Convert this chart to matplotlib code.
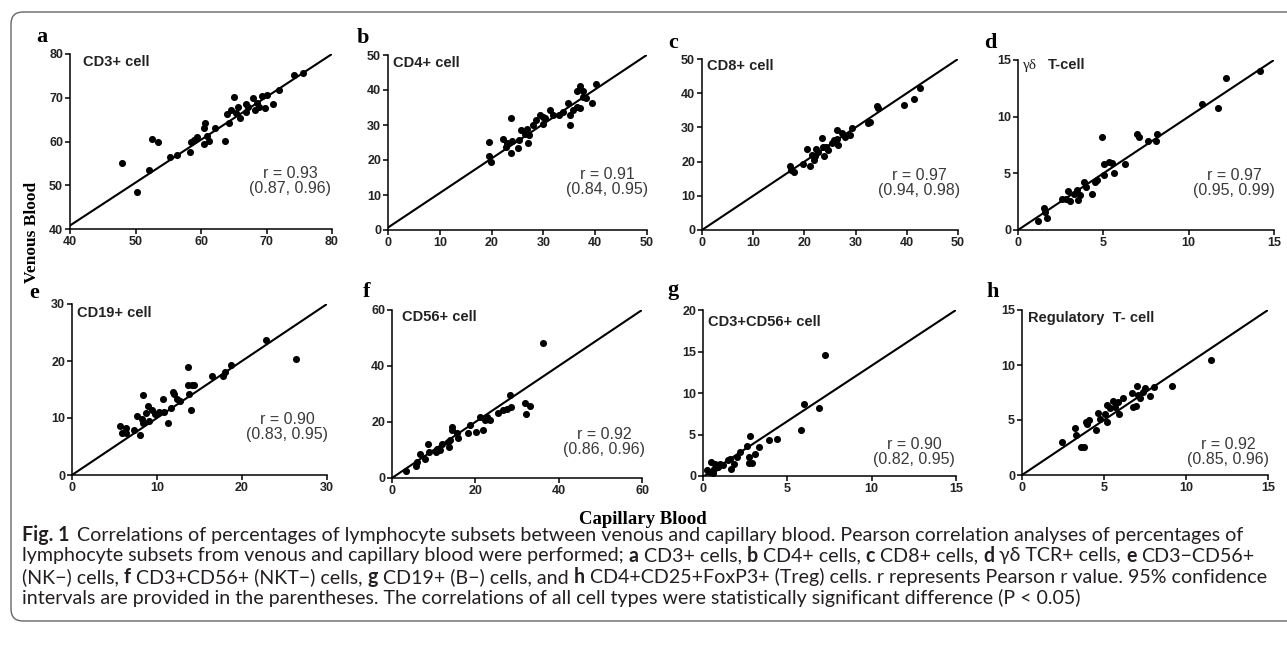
import numpy as np
import matplotlib.pyplot as plt
from matplotlib.patches import FancyBboxPatch

W, H = 1287, 651

# ---- data (capillary = x, venous = y) ----
a_cap = [48.0, 50.2, 52.0, 52.5, 53.5, 55.2, 56.3, 58.3, 58.5, 58.9, 59.4, 60.6, 60.5,
         60.5, 61.2, 60.9, 62.2, 63.6, 63.9, 64.3, 64.6, 65.0, 65.3, 65.6, 66.0, 66.8,
         67.1, 67.9, 68.3, 68.6, 68.8, 69.3, 69.8, 70.1, 71.0, 71.9, 74.2, 75.6, 66.8]
a_ven = [55.0, 48.4, 53.5, 60.5, 59.9, 56.4, 56.9, 57.6, 59.8, 60.4, 61.0, 64.2, 63.2,
         59.5, 60.2, 61.3, 63.2, 60.2, 66.2, 64.2, 67.2, 70.1, 66.5, 67.8, 65.3, 68.6,
         68.0, 69.9, 67.2, 68.7, 68.0, 70.3, 67.6, 70.6, 68.5, 71.8, 75.2, 75.7, 66.8]

b_cap = [19.5, 19.5, 19.9, 22.2, 23.0, 23.7, 23.8, 24.0, 25.1, 25.3, 25.7, 26.4, 26.8,
         27.0, 27.3, 27.9, 28.6, 29.4, 29.9, 30.4, 31.2, 31.9, 33.1, 34.7, 35.1, 35.2,
         35.7, 36.4, 36.5, 37.1, 37.1, 37.6, 38.2, 39.4, 40.2, 37.6, 33.8, 29.9, 22.8]
b_ven = [25.2, 21.1, 19.4, 26.1, 24.8, 31.9, 22.1, 25.5, 23.3, 25.7, 28.6, 27.4, 28.8,
         25.0, 27.1, 30.0, 31.4, 32.9, 30.2, 31.9, 34.3, 32.9, 32.9, 36.4, 32.9, 30.0,
         34.3, 35.2, 39.8, 41.1, 34.8, 38.1, 37.6, 36.2, 41.6, 39.8, 33.8, 32.4, 23.8]

c_cap = [17.1, 17.4, 18.0, 19.8, 20.5, 21.1, 21.4, 21.8, 22.1, 22.3, 22.7, 23.4, 23.6,
         23.8, 24.2, 24.7, 25.3, 25.7, 26.3, 26.4, 26.6, 27.3, 27.9, 28.9, 29.2, 32.5,
         32.8, 34.1, 34.4, 39.4, 41.4, 42.5]
c_ven = [18.6, 17.6, 17.1, 19.3, 23.7, 18.6, 22.0, 20.5, 21.7, 23.6, 22.7, 26.9, 24.4,
         21.5, 24.4, 23.4, 25.4, 26.2, 26.7, 29.3, 24.9, 28.3, 27.1, 27.8, 29.8, 31.4,
         31.7, 36.3, 35.6, 36.6, 38.4, 41.4]

d_cap = [1.17, 1.5, 1.56, 1.7, 2.55, 2.8, 2.93, 3.03, 3.3, 3.48, 3.5, 3.64, 3.85, 4.0,
         4.36, 4.5, 4.6, 4.95, 5.03, 5.03, 5.34, 5.53, 5.6, 6.26, 7.0, 7.08, 7.63, 8.1,
         8.15, 10.76, 11.74, 12.2, 14.2]
d_ven = [0.79, 1.9, 1.6, 1.1, 2.7, 2.7, 3.4, 2.6, 3.15, 3.5, 2.65, 3.1, 4.2, 3.8,
         3.2, 4.2, 4.4, 8.2, 4.85, 5.8, 6.0, 5.9, 5.06, 5.8, 8.5, 8.2, 7.85, 7.85,
         8.5, 11.1, 10.8, 13.4, 14.0]

e_cap = [5.7, 5.9, 6.3, 6.3, 7.3, 7.6, 7.96, 8.2, 8.4, 8.35, 8.7, 8.9, 9.1, 9.4, 9.8,
         10.2, 10.7, 10.8, 11.3, 11.6, 11.9, 12.0, 12.3, 12.7, 13.6, 13.7, 13.8, 14.1,
         14.0, 14.3, 16.5, 17.8, 18.0, 18.7, 22.8, 26.3]
e_ven = [8.6, 7.3, 8.2, 7.3, 7.9, 10.4, 7.0, 9.9, 14.0, 9.1, 10.8, 12.1, 9.5, 11.4, 10.7,
         11.0, 13.3, 11.1, 9.2, 11.7, 14.6, 14.2, 13.3, 13.0, 15.8, 18.9, 14.2, 15.8,
         11.4, 15.8, 17.4, 17.4, 18.1, 19.3, 23.7, 20.3]

f_cap = [3.3, 5.7, 6.0, 6.8, 7.9, 8.7, 8.9, 10.5, 10.8, 11.5, 12.1, 13.5, 13.7, 14.0,
         14.3, 14.5, 15.5, 15.9, 18.3, 18.7, 20.1, 21.1, 21.9, 22.3, 22.7, 23.5, 25.5,
         26.7, 27.5, 28.2, 28.5, 31.8, 32.2, 33.1, 36.2]
f_ven = [2.5, 4.2, 5.7, 8.7, 6.9, 12.1, 9.3, 9.3, 10.5, 9.9, 12.3, 12.9, 11.1, 13.7,
         18.3, 17.1, 16.1, 14.4, 15.9, 18.9, 16.5, 21.8, 17.3, 20.6, 21.8, 20.6, 23.3,
         24.2, 24.6, 29.6, 25.4, 26.8, 23.0, 25.7, 48.3]

g_cap = [0.24, 0.43, 0.47, 0.59, 0.67, 0.87, 1.03, 1.18, 1.46, 1.62, 1.66, 1.86, 2.0,
         2.2, 2.6, 2.8, 2.7, 2.7, 2.9, 3.1, 3.3, 3.9, 4.4, 5.8, 6.0, 6.85, 7.24, 0.7]
g_ven = [0.7, 0.5, 1.65, 0.4, 0.9, 1.1, 1.5, 1.3, 1.9, 2.1, 0.8, 1.5, 2.25,
         2.9, 3.6, 4.8, 2.3, 1.6, 1.6, 2.65, 3.5, 4.3, 4.4, 5.6, 8.7, 8.15, 14.6, 1.5]

h_cap = [2.43, 3.24, 3.3, 3.6, 3.75, 3.9, 3.95, 4.1, 4.5, 4.66, 4.76, 5.07, 5.17, 5.2,
         5.37, 5.53, 5.68, 5.88, 5.94, 6.14, 6.69, 6.76, 6.96, 7.03, 7.1, 7.2, 7.36, 7.5,
         7.8, 8.05, 9.12, 11.5]
h_ven = [3.03, 4.24, 3.64, 2.58, 2.58, 4.85, 4.6, 5.0, 4.1, 5.6, 5.06, 5.55, 6.36, 4.85,
         6.06, 6.76, 6.2, 6.6, 5.55, 6.97, 7.42, 6.15, 6.27, 8.1, 7.27, 6.97, 7.58, 7.88,
         7.18, 7.97, 8.1, 10.45]

letters = ["a", "b", "c", "d", "e", "f", "g", "h"]
titles = ["CD3+ cell", "CD4+ cell", "CD8+ cell", "T-cell",
          "CD19+ cell", "CD56+ cell", "CD3+CD56+ cell", "Regulatory  T- cell"]
r_vals = [0.93, 0.91, 0.97, 0.97, 0.90, 0.92, 0.90, 0.92]
ci_lo = [0.87, 0.84, 0.94, 0.95, 0.83, 0.86, 0.82, 0.85]
ci_hi = [0.96, 0.95, 0.98, 0.99, 0.95, 0.96, 0.95, 0.96]
fit_slope = [0.98, 0.987, 1.0, 1.0, 1.0, 1.0, 1.34, 1.0]
fit_icpt = [1.6, 0.7, 0.0, 0.0, 0.0, 0.0, -0.1, 0.0]
x_ticks = [[40, 50, 60, 70, 80], [0, 10, 20, 30, 40, 50], [0, 10, 20, 30, 40, 50],
           [0, 5, 10, 15], [0, 10, 20, 30], [0, 20, 40, 60], [0, 5, 10, 15], [0, 5, 10, 15]]
y_ticks = [[40, 50, 60, 70, 80], [0, 10, 20, 30, 40, 50], [0, 10, 20, 30, 40, 50],
           [0, 5, 10, 15], [0, 10, 20, 30], [0, 20, 40, 60], [0, 5, 10, 15, 20], [0, 5, 10, 15]]

caps = [a_cap, b_cap, c_cap, d_cap, e_cap, f_cap, g_cap, h_cap]
vens = [a_ven, b_ven, c_ven, d_ven, e_ven, f_ven, g_ven, h_ven]

# ---- layout (pixels: left, right, top, bottom) ----
boxes = [(70, 332, 54, 229), (388, 647, 55, 230), (702, 958, 59, 230), (1018, 1274, 60, 230),
         (72, 327, 304, 475), (392, 642, 310, 478), (703, 956, 310, 476), (1022, 1268, 310, 475)]
letter_xy = [(42, 37), (363, 38), (673, 43), (990, 43), (34, 293), (367, 292), (673, 290), (993, 292)]
title_xy = [(83, 62), (393, 63), (707, 66), (1048, 65), (77, 313), (402, 317), (708, 322), (1028, 318)]
r_xy = [(290, 181), (607, 182), (919, 183), (1234, 183), (287, 427), (604, 442), (914, 452), (1228, 452)]

SANS = "Liberation Sans"
SERIF = "Liberation Serif"
CAP_FONT = ["Lato", "DejaVu Sans"]

fig = plt.figure(figsize=(W / 100, H / 100), dpi=100)


def fx(px):
    return px / W


def fy(py):
    return 1 - py / H


for i in range(8):
    l, r, t, b = boxes[i]
    ax = fig.add_axes([fx(l), fy(b), (r - l) / W, (b - t) / H])
    xt, yt = x_ticks[i], y_ticks[i]
    ax.set_xlim(xt[0], xt[-1])
    ax.set_ylim(yt[0], yt[-1])
    xs = np.array([xt[0], xt[-1]], dtype=float)
    ax.plot(xs, fit_icpt[i] + fit_slope[i] * xs, color="black", lw=1.5, zorder=2)
    ax.scatter(caps[i], vens[i], s=26, color="black", linewidths=0, zorder=3)
    ax.set_xticks(xt)
    ax.set_yticks(yt)
    for s in ["top", "right"]:
        ax.spines[s].set_visible(False)
    for s in ["left", "bottom"]:
        ax.spines[s].set_linewidth(1.1)
    ax.tick_params(direction="out", length=3.5, width=1.1, pad=1.5, labelsize=9)
    for lab in ax.get_xticklabels() + ax.get_yticklabels():
        lab.set_fontweight("bold")
        lab.set_family(SANS)
        lab.set_color("#222222")

    fig.text(fx(letter_xy[i][0]), fy(letter_xy[i][1]), letters[i], family=SERIF,
             fontweight="bold", fontsize=16, ha="center", va="center")
    fig.text(fx(title_xy[i][0]), fy(title_xy[i][1]), titles[i], family=SANS,
             fontweight="bold", fontsize=10.5, ha="left", va="center", color="#222222")
    fig.text(fx(r_xy[i][0]), fy(r_xy[i][1]),
             f"r = {r_vals[i]:.2f}\n({ci_lo[i]:.2f}, {ci_hi[i]:.2f})",
             family=SANS, fontsize=11.5, ha="center", va="center",
             multialignment="center", linespacing=1.0, color="#3a3a3a")

# gamma-delta prefix for panel d
fig.text(fx(1023), fy(65), "γδ", family=SERIF, fontsize=11, ha="left", va="center", color="#222222")

# shared axis titles
fig.text(fx(32), fy(232), "Venous Blood", family=SERIF, fontweight="bold", fontsize=12.5,
         rotation=90, ha="center", va="center")
fig.text(fx(643), fy(520), "Capillary Blood", family=SERIF, fontweight="bold", fontsize=13.5,
         ha="center", va="center")

# frame
frame = FancyBboxPatch((11, H - 621), 1300, 621 - 12, boxstyle="round,pad=0,rounding_size=12",
                       transform=None, fill=False, edgecolor="#666666", lw=1.0)
fig.add_artist(frame)

# caption with bold runs
cap_lines = [
    [("Fig. 1", True), ("Correlations of percentages of lymphocyte subsets between venous and capillary blood. Pearson correlation analyses of percentages of", False)],
    [("lymphocyte subsets from venous and capillary blood were performed;", False), ("a", True), ("CD3+ cells,", False),
     ("b", True), ("CD4+ cells,", False), ("c", True), ("CD8+ cells,", False), ("d", True), ("γδ TCR+ cells,", False),
     ("e", True), ("CD3−CD56+", False)],
    [("(NK−) cells,", False), ("f", True), ("CD3+CD56+ (NKT−) cells,", False), ("g", True), ("CD19+ (B−) cells, and", False),
     ("h", True), ("CD4+CD25+FoxP3+ (Treg) cells. r represents Pearson r value. 95% confidence", False)],
    [("intervals are provided in the parentheses. The correlations of all cell types were statistically significant difference (P < 0.05)", False)],
]
cap_y = [535, 556, 577, 598]
cap_x0 = 22
renderer = fig.canvas.get_renderer()


def run_width(txt, bold, size):
    t = fig.text(0, 0, txt, family=CAP_FONT, fontsize=size, fontweight="bold" if bold else "normal")
    w = t.get_window_extent(renderer).width
    t.remove()
    return w


def line_width(line, size):
    sp = run_width("a a", False, size) - run_width("aa", False, size)
    return sum(run_width(t, b, size) for t, b in line) + sp * (len(line) - 1) + sp * 0.5


# fit the caption so that its longest line ends near the right edge of the text block
size = 11
widest = max(line_width(ln, size) for ln in cap_lines)
size = size * (1268 - cap_x0) / widest
sp = run_width("a a", False, size) - run_width("aa", False, size)

for line, y in zip(cap_lines, cap_y):
    x = cap_x0
    for txt, bold in line:
        t = fig.text(fx(x), fy(y), txt, family=CAP_FONT, fontsize=size,
                     fontweight="bold" if bold else "normal", va="center", ha="left", color="#231f20")
        x += t.get_window_extent(renderer).width + (sp * 1.5 if txt == "Fig. 1" else sp)

fig.savefig("out.png", dpi=100)
